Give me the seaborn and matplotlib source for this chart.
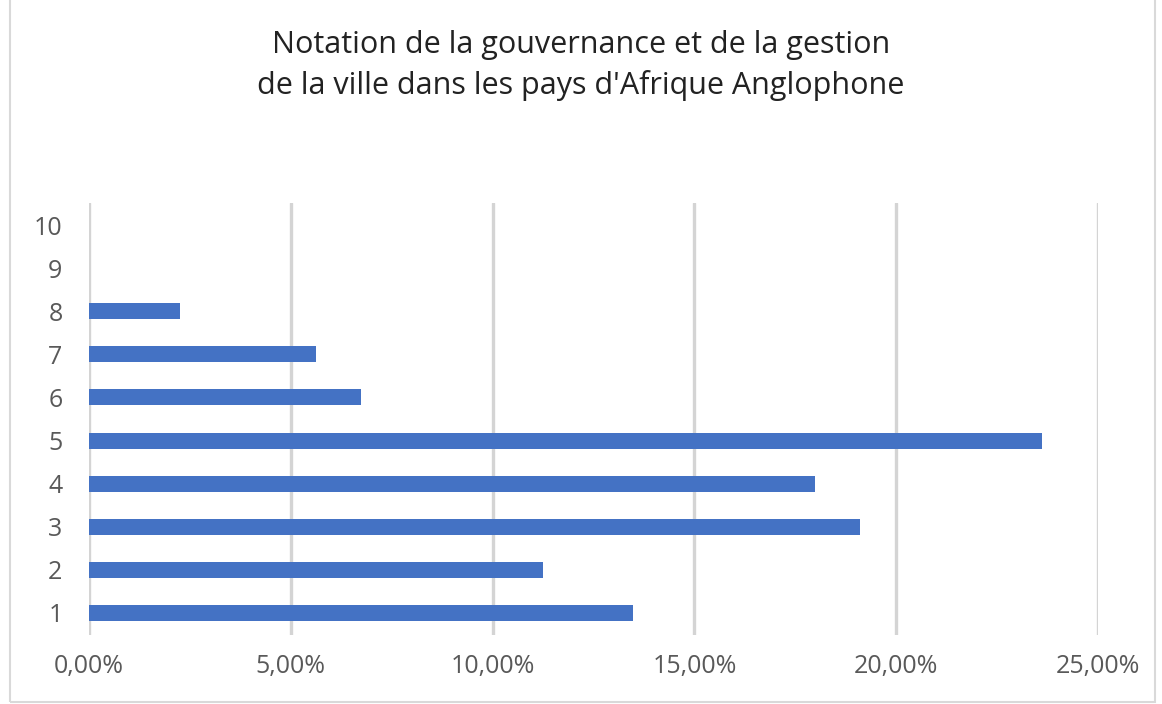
import matplotlib
matplotlib.use("Agg")
import matplotlib.pyplot as plt
from matplotlib.patches import Rectangle
from matplotlib.ticker import FuncFormatter, MultipleLocator
import seaborn as sns
import pandas as pd

# Ratings 1..10 and the share of respondents (in %) for each rating
ratings = ["1", "2", "3", "4", "5", "6", "7", "8", "9", "10"]
shares = [13.48, 11.24, 19.10, 17.98, 23.60, 6.74, 5.62, 2.25, 0.0, 0.0]
title_lines = ["Notation de la gouvernance et de la gestion",
               "de la ville dans les pays d'Afrique Anglophone"]

sns.set_theme(style="white")
plt.rcParams["font.family"] = ["Open Sans", "DejaVu Sans"]

df = pd.DataFrame({"note": ratings, "part": [s / 100 for s in shares]})

fig = plt.figure(figsize=(11.62, 7.04), dpi=100)
ax = fig.add_axes([0.0766, 0.0987, 0.8684, 0.6123])

sns.barplot(data=df, x="part", y="note", order=ratings[::-1], orient="h",
            color="#4472C4", saturation=1, width=0.37, linewidth=0,
            ax=ax, zorder=3)

ax.set_xlim(0, 0.25)
ax.xaxis.set_major_locator(MultipleLocator(0.05))
ax.xaxis.set_major_formatter(
    FuncFormatter(lambda v, _: f"{v * 100:.2f}%".replace(".", ",")))
ax.grid(axis="x", color="#D4D4D4", linewidth=2.4, zorder=0)
ax.grid(axis="y", visible=False)
for s in ax.spines.values():
    s.set_visible(False)
ax.set_xlabel("")
ax.set_ylabel("")
ax.tick_params(axis="both", length=0, labelsize=18, labelcolor="#595959")
ax.tick_params(axis="x", pad=14)
ax.tick_params(axis="y", pad=19)

fig.text(0.5, 0.936, title_lines[0], ha="center", va="center",
         fontsize=22, color="#222222")
fig.text(0.5, 0.879, title_lines[1], ha="center", va="center",
         fontsize=22, color="#222222")

# Light chart-area border
fig.patches.append(Rectangle((0.009, 0.003), 0.985, 1.05,
                             transform=fig.transFigure, fill=False,
                             edgecolor="#D9D9D9", linewidth=1.5))

fig.savefig("out.png", dpi=100, facecolor="white")
